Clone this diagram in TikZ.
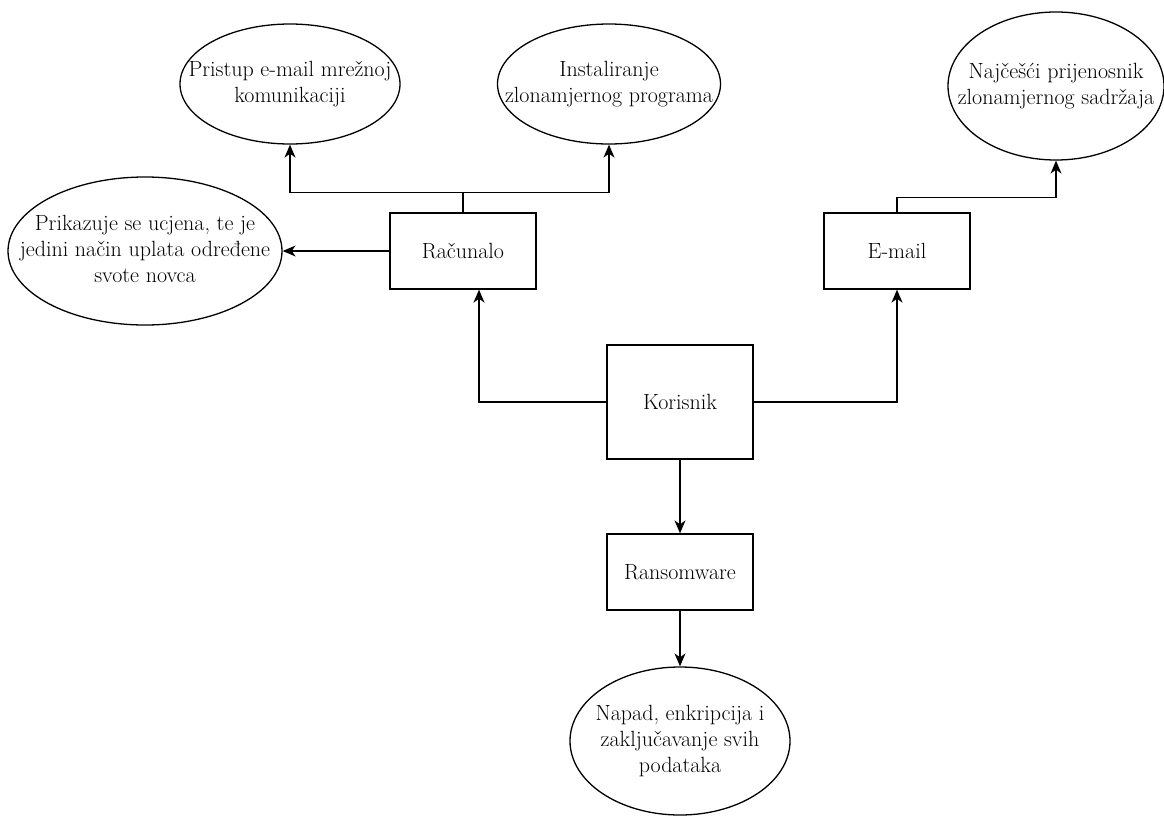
\documentclass[tikz,border=0pt]{standalone}
\usetikzlibrary{positioning}
\usetikzlibrary{shapes.geometric}
\usetikzlibrary{arrows.meta}

\newcommand{\lines}[1]{\makebox[0pt]{\begin{tabular}{@{}c@{}}#1\end{tabular}}}

\begin{document}
\begin{tikzpicture}[x=1pt,y=1pt,on grid,line width=1.3pt,
        arr/.style={-{Stealth[length=13pt,width=11pt,inset=4pt]}},
        every node/.style={font=\fontsize{22}{26}\selectfont},
        box/.style={draw,rectangle,minimum width=146pt,minimum height=76pt},
        bubble/.style={draw,ellipse,minimum width=220pt,minimum height=120pt,inner sep=0pt}]
        \useasboundingbox (0,0) rectangle (1164,-817);

        \node[box,minimum height=114pt] (kor) at (680,-402) {Korisnik};
        \node[box] (rans) [below=170pt of kor] {Ransomware};
        \node[bubble,minimum height=148pt] (napad) [below=169pt of rans] {\lines{Napad, enkripcija i\\zaključavanje svih\\podataka}};
        \node[box] (rac) [above left=151pt and 217pt of kor] {Računalo};
        \node[box] (mail) [above right=151pt and 217pt of kor] {E-mail};
        \node[bubble] (pristup) [above left=167pt and 173pt of rac] {\lines{Pristup e-mail mrežnoj\\komunikaciji}};
        \node[bubble,minimum width=223pt] (instal) [above right=167pt and 146pt of rac] {\lines{Instaliranje\\zlonamjernog programa}};
        \node[bubble,minimum width=216pt,minimum height=148pt] (prijenos) [above right=165pt and 159pt of mail] {\lines{Najčešći prijenosnik\\zlonamjernog sadržaja}};
        \node[bubble,minimum width=274pt,minimum height=148pt] (ucjena) [left=318pt of rac] {\lines{Prikazuje se ucjena, te je\\jedini način uplata određene\\svote novca}};

        \draw[arr] (kor.west) -| ([xshift=16pt]rac.south);
        \draw[arr] (kor.east) -| (mail.south);
        \draw[arr] (kor) -- (rans);
        \draw[arr] (rans) -- (napad);
        \draw[arr] (rac.north) -- ++(0,20) -| (pristup.south);
        \draw[arr] (rac.north) -- ++(0,20) -| (instal.south);
        \draw[arr] (rac) -- (ucjena);
        \draw[arr] (mail.north) -- ++(0,15) -| (prijenos.south);
      \end{tikzpicture}
\end{document}
